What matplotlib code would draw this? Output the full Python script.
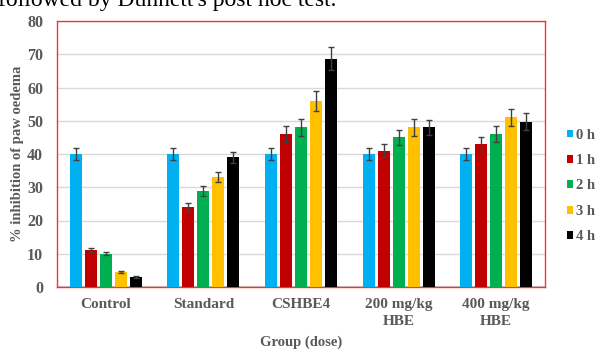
import numpy as np
import matplotlib.pyplot as plt

# data
groups = ["Control", "Standard", "CSHBE4", "200 mg/kg\nHBE", "400 mg/kg\nHBE"]
hours = ["0 h", "1 h", "2 h", "3 h", "4 h"]

h0 = [40, 40, 40, 40, 40]
h1 = [11, 24, 46, 41, 43]
h2 = [10, 29, 48, 45, 46]
h3 = [4.5, 33, 56, 48, 51]
h4 = [3, 39, 68.7, 48, 49.7]

e0 = [1.8, 1.8, 1.8, 1.8, 1.8]
e1 = [0.6, 1.2, 2.3, 2.0, 2.2]
e2 = [0.5, 1.5, 2.5, 2.3, 2.3]
e3 = [0.3, 1.5, 3.0, 2.5, 2.5]
e4 = [0.2, 1.7, 3.4, 2.3, 2.6]

colors = ["#00B0F0", "#C00000", "#00B050", "#FFC000", "#000000"]

plt.rcParams['font.family'] = ['Liberation Serif', 'DejaVu Serif']
grey = "#595959"

fig = plt.figure(figsize=(6.0, 3.51), dpi=100)
ax = fig.add_axes([57 / 600, 1 - 287 / 351, 488 / 600, 266 / 351])

x = np.arange(len(groups))
stride = 0.154
width = 0.123
series = [h0, h1, h2, h3, h4]
errs = [e0, e1, e2, e3, e4]
for j in range(5):
    ax.bar(x + (j - 2) * stride, series[j], width, color=colors[j], label=hours[j],
           yerr=errs[j], error_kw=dict(ecolor="#404040", elinewidth=1.0, capsize=2.5, capthick=1.0),
           zorder=3)

ax.set_xlim(-0.5, 4.5)
ax.set_ylim(0, 80)
ax.set_yticks(range(0, 81, 10))
ax.yaxis.grid(True, color="#D9D9D9", linewidth=1.0, zorder=0)
ax.set_axisbelow(True)

for s in ax.spines.values():
    s.set_color("#FF3030")
    s.set_linewidth(1.0)
ax.axhline(0, color="#BFBFBF", linewidth=1.2, zorder=2)

ax.set_xticks(x)
ax.set_xticklabels(groups, fontsize=11, fontweight='bold', color=grey, linespacing=1.35)
ax.tick_params(axis='both', length=0, colors=grey)
for lab in ax.get_yticklabels():
    lab.set_fontsize(11.5)
    lab.set_fontweight('bold')
ax.tick_params(axis='x', pad=8)
ax.tick_params(axis='y', pad=10)

ax.set_xlabel("Group (dose)", fontsize=10.5, fontweight='bold', color=grey)
ax.xaxis.set_label_coords(0.5, -(336 - 287) / 266)
ax.set_ylabel("% inhibition of paw oedema", fontsize=10.5, fontweight='bold', color=grey)
ax.yaxis.set_label_coords((24 - 57) / 488, 0.5)

leg = ax.legend(loc='center left', bbox_to_anchor=(1.03, (287 - 186) / 266), frameon=False,
                borderpad=0, handlelength=0.45, handleheight=0.45, handletextpad=0.2,
                labelspacing=0.85,
                prop=dict(family='Liberation Serif', weight='bold', size=10.5))
for t in leg.get_texts():
    t.set_color(grey)

# caption fragment cut off at the top of the picture
fig.text(336 / 600, 1 - 6 / 351, "followed by Dunnett's post hoc test.", ha='right', va='baseline',
         fontsize=17, color='black')

fig.savefig("out.png", dpi=100)
